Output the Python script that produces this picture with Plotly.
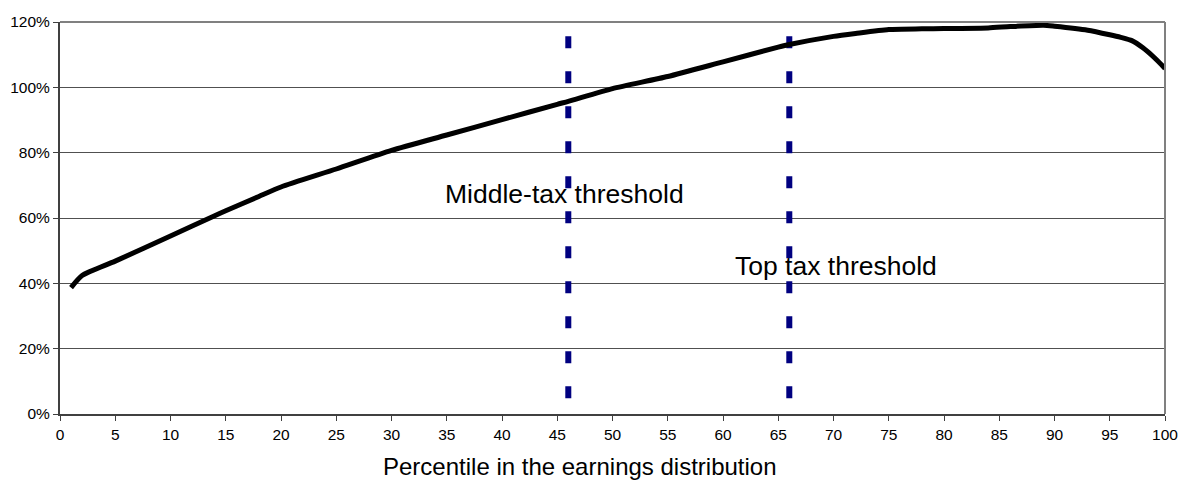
import plotly.graph_objects as go

# Earnings at each percentile as a share of the reference level (%)
percentile = [1, 2, 5, 10, 14, 15, 18, 20, 25, 30, 35, 40, 45, 46, 50, 55, 60,
              65, 66, 70, 72, 75, 78, 80, 84, 86, 89, 90, 93, 95, 96, 97, 98, 99, 100]
earnings_pct = [38.7, 42.4, 46.8, 54.5, 60.7, 62.2, 66.6, 69.5, 75.0, 80.7, 85.4,
                90.1, 94.8, 95.7, 99.6, 103.3, 107.8, 112.3, 113.1, 115.6, 116.5,
                117.7, 117.9, 118.0, 118.2, 118.6, 119.0, 118.7, 117.5, 116.1,
                115.3, 114.3, 112.1, 109.2, 105.8]

# Tax thresholds (percentile positions) and the span of their marker lines
threshold_names = ["Middle-tax threshold", "Top tax threshold"]
threshold_pos = [46, 66]
threshold_span = [115.6, 0]
label_pos = [(34.7, 67.4), (60.9, 45.4)]

x_ticks = list(range(0, 101, 5))
y_ticks = list(range(0, 121, 20))
y_tick_text = [f"{v}%" for v in y_ticks]

FONT = "Liberation Sans, Arial, sans-serif"

fig = go.Figure()

for pos in threshold_pos:
    fig.add_trace(go.Scatter(
        x=[pos, pos], y=threshold_span, mode="lines",
        line=dict(color="#000080", width=6, dash="12px,23px"),
        showlegend=False, hoverinfo="skip", cliponaxis=False,
    ))

fig.add_trace(go.Scatter(
    x=percentile, y=earnings_pct, mode="lines",
    line=dict(color="#000000", width=5, shape="spline", smoothing=0.6),
    showlegend=False, cliponaxis=False,
))

for name, (lx, ly) in zip(threshold_names, label_pos):
    fig.add_annotation(
        x=lx, y=ly, xref="x", yref="y", text=name, showarrow=False,
        xanchor="left", yanchor="middle",
        font=dict(family=FONT, size=26.5, color="#000000"),
    )

fig.add_annotation(
    x=0.4706, y=-0.133, xref="paper", yref="paper",
    text="Percentile in the earnings distribution", showarrow=False,
    xanchor="center", yanchor="middle",
    font=dict(family=FONT, size=24, color="#000000"),
)

# Grey frame on top and right of the plot area
fig.add_shape(type="line", xref="paper", yref="paper", x0=0, x1=1, y0=1, y1=1,
              line=dict(color="#808080", width=2))
fig.add_shape(type="line", xref="paper", yref="paper", x0=1, x1=1, y0=0, y1=1,
              line=dict(color="#808080", width=2))

fig.update_xaxes(
    range=[0, 100], tickmode="array", tickvals=x_ticks, automargin=False,
    showgrid=False, zeroline=False,
    showline=True, linecolor="#404040", linewidth=2,
    ticks="outside", ticklen=5, tickcolor="#404040", tickwidth=1,
    tickfont=dict(family=FONT, size=15.5, color="#000000"),
)
fig.update_yaxes(
    range=[0, 120], tickmode="array", tickvals=y_ticks, ticktext=y_tick_text,
    automargin=False,
    showgrid=True, gridcolor="#505050", gridwidth=1, zeroline=False,
    showline=True, linecolor="#404040", linewidth=2,
    ticks="outside", ticklen=5, tickcolor="#404040", tickwidth=1,
    tickfont=dict(family=FONT, size=15.5, color="#000000"),
)

fig.update_layout(
    width=1180, height=488,
    margin=dict(l=60, r=15, t=22, b=74),
    paper_bgcolor="#ffffff", plot_bgcolor="#ffffff",
    font=dict(family=FONT, color="#000000"),
)

fig.write_html("out.html")
